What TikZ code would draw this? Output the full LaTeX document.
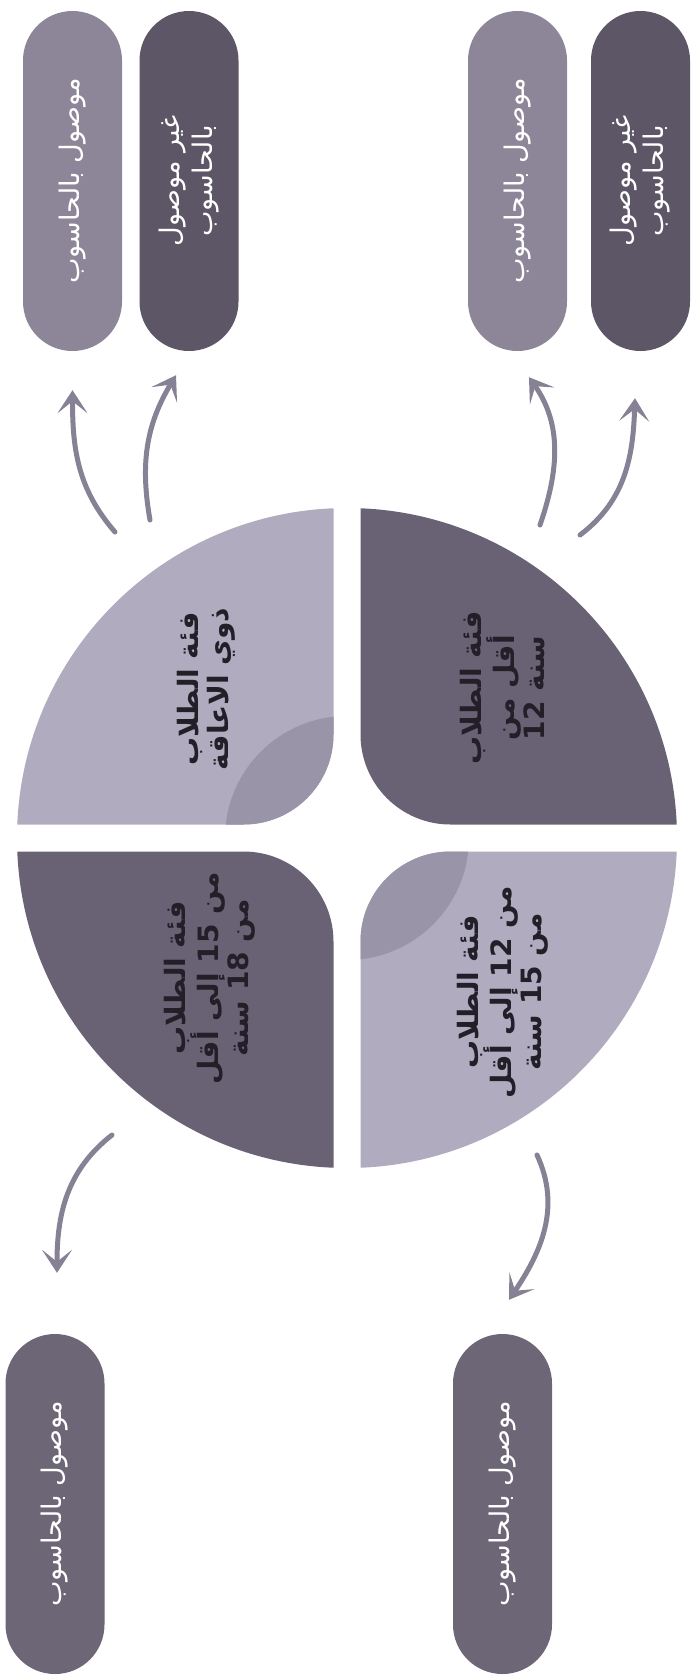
\documentclass[tikz,border=0pt]{standalone}
\usepackage{fontspec}
\usepackage{tikz}
\usetikzlibrary{arrows.meta,shapes.misc}
\TeXXeTstate=1
\newfontfamily\arabicfont[Script=Arabic]{DejaVu Sans}
\definecolor{quadlight}{RGB}{176,171,190}
\definecolor{quadshade}{RGB}{154,148,169}
\definecolor{quaddark}{RGB}{104,98,116}
\definecolor{pillmid}{RGB}{140,134,152}
\definecolor{pilldark}{RGB}{92,86,103}
\definecolor{pilllow}{RGB}{108,102,119}
\definecolor{arrowgray}{RGB}{134,129,148}
\definecolor{quadtext}{RGB}{35,31,41}

\tikzset{
  pill/.style={rounded rectangle, minimum width=340pt, minimum height=99pt,
    inner sep=0pt, rotate=90, text=white, align=center,
    font=\arabicfont\fontsize{27}{33}\selectfont},
  quadlabel/.style={rotate=90, align=center, text=quadtext,
    font=\arabicfont\bfseries\fontsize{28}{30}\selectfont},
  flow/.style={arrowgray, line width=5pt, line cap=round,
    -{Stealth[length=23pt,width=30pt,inset=12pt]}}
}

\begin{document}
\begin{tikzpicture}[x=1pt,y=1pt]
\useasboundingbox (0,0) rectangle (694,-1679);
% four leaves of the circle
\begin{scope}
  \clip (347,-838) circle (330);
  \clip[rounded corners=90pt] (-200,-300) rectangle (333.5,-824.5);
  \fill[quadlight] (0,-300) rectangle (347,-838);
  \fill[quadshade] (347,-838) circle (122);
\end{scope}
\begin{scope}
  \clip (347,-838) circle (330);
  \clip[rounded corners=90pt] (360.5,-300) rectangle (894,-824.5);
  \fill[quaddark] (347,-300) rectangle (694,-838);
\end{scope}
\begin{scope}
  \clip (347,-838) circle (330);
  \clip[rounded corners=90pt] (-200,-851.5) rectangle (333.5,-1400);
  \fill[quaddark] (0,-838) rectangle (347,-1400);
\end{scope}
\begin{scope}
  \clip (347,-838) circle (330);
  \clip[rounded corners=90pt] (360.5,-851.5) rectangle (894,-1400);
  \fill[quadlight] (347,-838) rectangle (694,-1400);
  \fill[quadshade] (347,-838) circle (122);
\end{scope}
% leaf labels
\node[quadlabel] (grpDis) at (206,-689)
  {\beginR فئة الطلاب\endR\\\beginR ذوي الاعاقة\endR};
\node[quadlabel] (grpUnder) at (503,-688)
  {\beginR فئة الطلاب\endR\\\beginR أقل من\endR\\\beginR سنة \beginL12\endL\endR};
\node[quadlabel] (grpOld) at (210,-978)
  {\beginR فئة الطلاب\endR\\\beginR من \beginL15\endL{} إلى أقل\endR\\\beginR من \beginL18\endL{} سنة\endR};
\node[quadlabel] (grpMid) at (503,-992)
  {\beginR فئة الطلاب\endR\\\beginR من \beginL12\endL{} إلى أقل\endR\\\beginR من \beginL15\endL{} سنة\endR};
% outcome pills
\node[pill,fill=pillmid] (disOn) at (72.5,-181) {\beginR موصول بالحاسوب\endR};
\node[pill,fill=pilldark] (disOff) at (189,-181) {\beginR غير موصول\endR\\\beginR بالحاسوب\endR};
\node[pill,fill=pillmid] (underOn) at (517.5,-181) {\beginR موصول بالحاسوب\endR};
\node[pill,fill=pilldark] (underOff) at (640.5,-181) {\beginR غير موصول\endR\\\beginR بالحاسوب\endR};
\node[pill,fill=pilllow] (oldOn) at (55,-1504) {\beginR موصول بالحاسوب\endR};
\node[pill,fill=pilllow] (midOn) at (502.5,-1504) {\beginR موصول بالحاسوب\endR};
% arrows from the leaves
\coordinate (disA) at (115,-532);
\coordinate (disB) at (150,-520);
\coordinate (underA) at (540,-525);
\coordinate (underB) at (580,-535);
\coordinate (oldA) at (112,-1135);
\coordinate (midA) at (537,-1155);
\draw[flow] (disA) to[out=131,in=-90] ([yshift=-39pt]disOn.west);
\draw[flow] (disB) to[out=100,in=239] ([shift={(-13pt,-24pt)}]disOff.west);
\draw[flow] (underA) to[out=71,in=305] ([shift={(11.5pt,-26pt)}]underOn.west);
\draw[flow] (underB) to[out=37,in=268] ([shift={(-5.5pt,-47pt)}]underOff.west);
\draw[flow] (oldA) to[out=218,in=90] ([shift={(2pt,61pt)}]oldOn.east);
\draw[flow] (midA) to[out=-65,in=56] ([shift={(6.5pt,34pt)}]midOn.east);
\end{tikzpicture}
\end{document}
